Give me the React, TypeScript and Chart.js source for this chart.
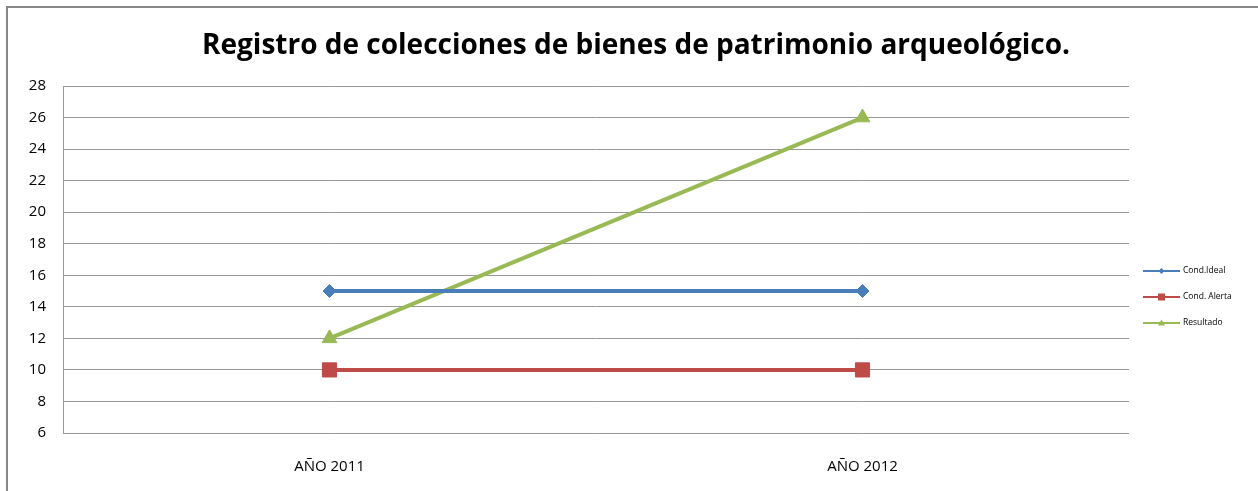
import React, { useEffect, useRef } from "react";
import { Chart, registerables } from "chart.js";

Chart.register(...registerables);

const TITLE = "Registro de colecciones de bienes de patrimonio arqueológico.";
const categories = ["AÑO 2011", "AÑO 2012"];
const condIdeal = [15, 15];
const condAlerta = [10, 10];
const resultado = [12, 26];
const yMin = 6;
const yMax = 28;
const yStep = 2;

const FONT = "'Open Sans', 'DejaVu Sans', sans-serif";

const framePlugin = {
  id: "frame",
  beforeDraw(chart: any) {
    const ctx = chart.ctx;
    ctx.save();
    ctx.fillStyle = "#ffffff";
    ctx.fillRect(0, 0, chart.width, chart.height);
    ctx.strokeStyle = "#878787";
    ctx.lineWidth = 2;
    ctx.strokeRect(7, 7, chart.width + 20, chart.height + 20);
    ctx.restore();
  },
};

const legendPlugin = {
  id: "customLegend",
  afterDraw(chart: any) {
    const ctx = chart.ctx;
    const x0 = 1143;
    const x1 = 1180;
    const ys = [271, 297, 323];
    ctx.save();
    chart.data.datasets.forEach((ds: any, i: number) => {
      const y = ys[i];
      ctx.strokeStyle = ds.borderColor;
      ctx.lineWidth = 2;
      ctx.beginPath();
      ctx.moveTo(x0, y);
      ctx.lineTo(x1, y);
      ctx.stroke();
      ctx.fillStyle = ds.borderColor;
      const cx = (x0 + x1) / 2;
      ctx.beginPath();
      if (ds.pointStyle === "rectRot") {
        ctx.moveTo(cx, y - 3);
        ctx.lineTo(cx + 3, y);
        ctx.lineTo(cx, y + 3);
        ctx.lineTo(cx - 3, y);
      } else if (ds.pointStyle === "rect") {
        ctx.rect(cx - 3.5, y - 3.5, 7, 7);
      } else {
        ctx.moveTo(cx, y - 3.5);
        ctx.lineTo(cx + 3.5, y + 2.5);
        ctx.lineTo(cx - 3.5, y + 2.5);
      }
      ctx.closePath();
      ctx.fill();
      ctx.fillStyle = "#000000";
      ctx.font = `8.5px ${FONT}`;
      ctx.textBaseline = "middle";
      ctx.textAlign = "left";
      ctx.fillText(ds.label, x1 + 3, y);
    });
    ctx.restore();
  },
};

export default function App() {
  const ref = useRef<HTMLCanvasElement>(null);
  useEffect(() => {
    if (!ref.current) return;
    const chart = new Chart(ref.current, {
      type: "line",
      data: {
        labels: categories,
        datasets: [
          {
            label: "Cond.Ideal",
            data: condIdeal,
            borderColor: "#4A7EBB",
            backgroundColor: "#4A7EBB",
            borderWidth: 4,
            pointStyle: "rectRot",
            pointRadius: 6.5,
            pointBorderWidth: 1,
          },
          {
            label: "Cond. Alerta",
            data: condAlerta,
            borderColor: "#BE4B48",
            backgroundColor: "#BE4B48",
            borderWidth: 4,
            pointStyle: "rect",
            pointRadius: 10,
            pointBorderWidth: 1,
          },
          {
            label: "Resultado",
            data: resultado,
            borderColor: "#98B954",
            backgroundColor: "#98B954",
            borderWidth: 4,
            pointStyle: "triangle",
            pointRadius: 8.5,
            pointBorderWidth: 1,
          },
        ],
      },
      options: {
        responsive: false,
        animation: false,
        devicePixelRatio: 1,
        layout: { padding: { left: 14, right: 0, top: 0, bottom: 0 } },
        plugins: {
          legend: { display: false },
          tooltip: { enabled: false },
          title: {
            display: true,
            text: TITLE,
            color: "#000000",
            font: { family: FONT, size: 28, weight: "bold", lineHeight: 1.2 },
            padding: { top: 29, bottom: 23.4 },
          },
        },
        scales: {
          x: {
            offset: true,
            grid: { display: false, drawTicks: false },
            border: { display: false },
            ticks: {
              color: "#000000",
              font: { family: FONT, size: 15 },
              padding: 25,
            },
            afterFit(scale: any) {
              scale.height = 58;
            },
          },
          y: {
            min: yMin,
            max: yMax,
            ticks: {
              stepSize: yStep,
              color: "#000000",
              font: { family: FONT, size: 15 },
              padding: 17,
            },
            grid: { color: "#999999", lineWidth: 1, drawTicks: false },
            border: { display: true, color: "#999999", width: 1 },
            afterFit(scale: any) {
              scale.width = 49;
            },
          },
          yRight: {
            position: "right",
            min: yMin,
            max: yMax,
            grid: { display: false, drawTicks: false },
            border: { display: false },
            ticks: { display: false },
            afterFit(scale: any) {
              scale.width = 129;
            },
          },
        },
      },
      plugins: [framePlugin, legendPlugin],
    });
    return () => chart.destroy();
  }, []);
  return (
    <div style={{ position: "absolute", left: 0, top: 0, width: 1258, height: 491 }}>
      <canvas ref={ref} width={1258} height={491} style={{ display: "block" }} />
    </div>
  );
}
